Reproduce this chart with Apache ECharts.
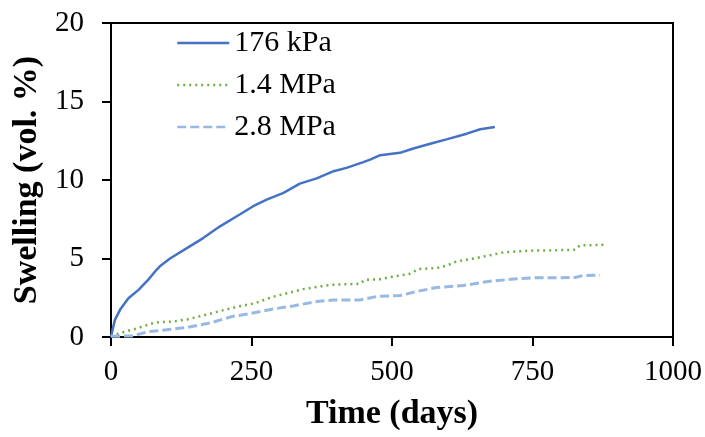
<!DOCTYPE html>
<html>
<head>
<meta charset="utf-8">
<script src="https://cdn.jsdelivr.net/npm/echarts@6/dist/echarts.min.js"></script>
<style>
html,body{margin:0;padding:0;background:#fff;}
#chart{width:705px;height:437px;}
</style>
</head>
<body>
<div id="chart"></div>
<script>
// Series names
var seriesNames = ['176 kPa', '1.4 MPa', '2.8 MPa'];

// 176 kPa
var daysA  = [0, 3, 7, 16, 31, 49, 66, 81, 87, 105, 135, 164, 194, 229, 253, 277, 307, 336, 366, 396, 419, 449, 461, 479, 514, 538, 568, 597, 633, 657, 683];
var swellA = [0, 0.5, 1.09, 1.73, 2.47, 3.0, 3.64, 4.28, 4.5, 5.0, 5.66, 6.3, 7.05, 7.8, 8.33, 8.75, 9.18, 9.77, 10.1, 10.56, 10.77, 11.14, 11.3, 11.58, 11.73, 12.01, 12.31, 12.59, 12.95, 13.23, 13.37];

// 1.4 MPa
var daysB  = [0, 25, 48, 78, 108, 137, 167, 197, 226, 256, 286, 318, 342, 390, 443, 452, 479, 496, 532, 547, 579, 597, 615, 639, 671, 698, 746, 787, 826, 834, 882];
var swellB = [0.05, 0.34, 0.57, 0.92, 0.98, 1.13, 1.4, 1.68, 1.94, 2.15, 2.54, 2.83, 3.05, 3.32, 3.39, 3.64, 3.68, 3.81, 4.03, 4.33, 4.39, 4.54, 4.81, 4.96, 5.18, 5.39, 5.5, 5.52, 5.56, 5.83, 5.88];

// 2.8 MPa
var daysC  = [0, 37, 66, 108, 137, 179, 215, 244, 286, 324, 366, 396, 443, 473, 514, 544, 579, 627, 671, 716, 751, 787, 826, 840, 870];
var swellC = [0.05, 0.06, 0.34, 0.49, 0.62, 0.92, 1.3, 1.47, 1.77, 1.98, 2.26, 2.36, 2.36, 2.58, 2.64, 2.9, 3.15, 3.28, 3.54, 3.69, 3.77, 3.77, 3.79, 3.92, 3.94];

// Axis ticks
var xTicks = [0, 250, 500, 750, 1000];
var yTicks = [0, 5, 10, 15, 20];

function pairs(xs, ys) { return xs.map(function (x, i) { return [x, ys[i]]; }); }

var serif = '"Liberation Serif", "Times New Roman", serif';
var chart = echarts.init(document.getElementById('chart'), null, {renderer: 'canvas'});
chart.setOption({
  backgroundColor: '#ffffff',
  animation: false,
  grid: {left: 111, right: 32, top: 23, bottom: 100, show: true, borderColor: '#000', borderWidth: 2, backgroundColor: 'transparent'},
  legend: {
    orient: 'vertical', left: 176, top: 28, padding: 0,
    itemWidth: 52, itemHeight: 14, itemGap: 12,
    itemStyle: {opacity: 0, borderWidth: 0},
    lineStyle: {width: 2.5},
    textStyle: {fontFamily: serif, fontSize: 30, color: '#000', lineHeight: 30},
    data: seriesNames
  },
  xAxis: {
    type: 'value', min: xTicks[0], max: xTicks[xTicks.length - 1], interval: 250,
    name: 'Time (days)', nameLocation: 'middle', nameGap: 60,
    nameTextStyle: {fontFamily: serif, fontSize: 34, fontWeight: 'bold', color: '#000'},
    axisLine: {show: true, lineStyle: {color: '#000', width: 2}},
    axisTick: {show: true, inside: false, length: 9, lineStyle: {color: '#000', width: 2}},
    axisLabel: {fontFamily: serif, fontSize: 29, color: '#000', margin: 21,
      formatter: function (v) { return String(v); }},
    splitLine: {show: false}
  },
  yAxis: {
    type: 'value', min: yTicks[0], max: yTicks[yTicks.length - 1], interval: 5,
    name: 'Swelling (vol. %)', nameLocation: 'middle', nameGap: 63,
    nameTextStyle: {fontFamily: serif, fontSize: 34, fontWeight: 'bold', color: '#000'},
    axisLine: {show: true, lineStyle: {color: '#000', width: 2}},
    axisTick: {show: true, inside: false, length: 9, lineStyle: {color: '#000', width: 2}},
    axisLabel: {fontFamily: serif, fontSize: 29, color: '#000', margin: 27},
    splitLine: {show: false}
  },
  series: [
    {name: seriesNames[0], type: 'line', data: pairs(daysA, swellA), showSymbol: false, symbol: 'none',
     lineStyle: {color: '#4472C4', width: 2.5, type: 'solid'}, itemStyle: {color: '#4472C4'}},
    {name: seriesNames[1], type: 'line', data: pairs(daysB, swellB), showSymbol: false, symbol: 'none',
     lineStyle: {color: '#70AD47', width: 2.5, type: [2, 4]}, itemStyle: {color: '#70AD47'}},
    {name: seriesNames[2], type: 'line', data: pairs(daysC, swellC), showSymbol: false, symbol: 'none',
     lineStyle: {color: '#98B9E3', width: 3, type: [9, 4]}, itemStyle: {color: '#98B9E3'}}
  ]
});
</script>
</body>
</html>
